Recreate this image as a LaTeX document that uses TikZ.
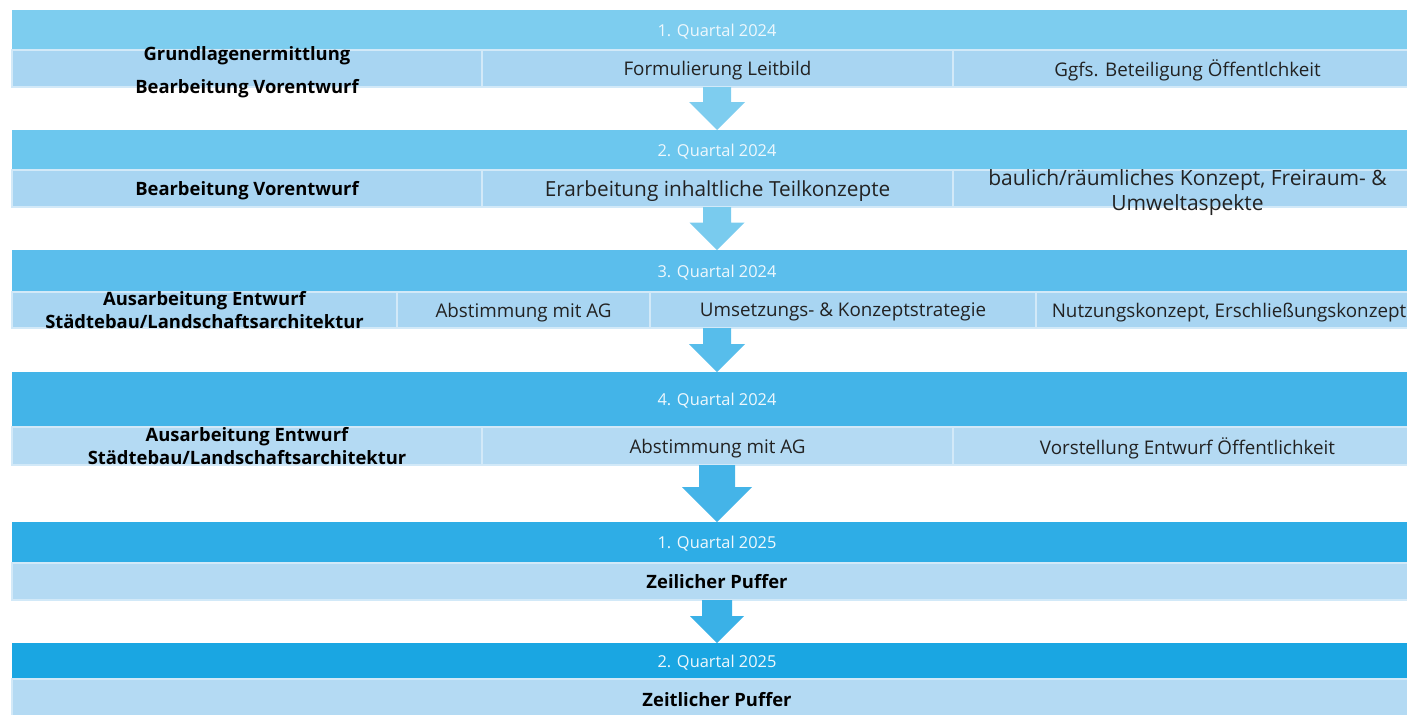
\documentclass[tikz,border=0pt]{standalone}
\usepackage{fontspec}
\setmainfont{Open Sans}
\usepackage{tikz}
\usetikzlibrary{calc,positioning}
\definecolor{head1}{HTML}{7DCDEF}
\definecolor{head2}{HTML}{6CC7EE}
\definecolor{head3}{HTML}{5BBEEC}
\definecolor{head4}{HTML}{43B4E8}
\definecolor{head5}{HTML}{2EADE6}
\definecolor{head6}{HTML}{1AA6E2}
\definecolor{subA}{HTML}{A8D5F2}
\definecolor{subB}{HTML}{B4DAF3}
\definecolor{arr1}{HTML}{7ECDEF}
\definecolor{arr2}{HTML}{79CBEE}
\definecolor{arr3}{HTML}{57BDEB}
\definecolor{arr4}{HTML}{44B4E8}
\definecolor{arr5}{HTML}{3AB1E7}
\definecolor{cellline}{HTML}{D2E9F8}
\definecolor{qtrtext}{HTML}{EEF8FD}
\definecolor{celltext}{HTML}{222222}

% block arrow: from, to, half shaft, half head, colour
\newcommand{\flowarrow}[5]{%
  \fill[#5] ($(#1)+(-#3,0)$) -- ($(#1)+(#3,0)$) -- ($(#2)+(#3,-#4)$)
    -- ($(#2)+(#4,-#4)$) -- (#2) -- ($(#2)+(-#4,-#4)$) -- ($(#2)+(-#3,-#4)$) -- cycle;}

\begin{document}
\begin{tikzpicture}
          [x=0.5pt,y=-0.5pt,
            every node/.style={rectangle,inner sep=0pt,outer sep=0pt},
            band/.style={anchor=north west,minimum width=705pt},
            cell/.style={anchor=north west,draw=cellline,line width=0.6pt},
            qtr/.style={text=qtrtext,text depth=0pt,font=\fontsize{8.2}{10}\selectfont},
            txt/.style={text=celltext,align=center,text depth=0pt,font=\fontsize{9.4}{11.5}\selectfont},
            bigtxt/.style={text=celltext,align=center,text depth=0pt,font=\fontsize{10.4}{12.5}\selectfont},
            bold/.style={text=black,align=center,text depth=0pt,font=\bfseries\fontsize{9.2}{11.5}\selectfont},
          ]
          \useasboundingbox (0,0) rectangle (1407,714);

          % 1. Quartal 2024
          \node[band,fill=head1,minimum height=20pt] (r1head) at (12,10) {};
          \node[qtr] (q1) at (r1head) {1. Quartal 2024};
          \node[cell,fill=subA,minimum width=235pt,minimum height=18.5pt] (r1a) at (r1head.south west) {};
          \node[cell,fill=subA,minimum width=235.5pt,minimum height=18.5pt,right=0pt of r1a,txt] (r1b) {Formulierung Leitbild};
          \node[cell,fill=subA,minimum width=234.5pt,minimum height=18.5pt,right=0pt of r1b,txt] (r1c) {Ggfs. Beteiligung Öffentlchkeit};
          \node[bold,font=\bfseries\fontsize{9.2}{16.5}\selectfont] (r1lbl) at (247,70) {Grundlagenermittlung\\Bearbeitung Vorentwurf};

          % 2. Quartal 2024
          \node[band,fill=head2,minimum height=20pt] (r2head) at (12,130) {};
          \node[qtr] (q2) at (r2head) {2. Quartal 2024};
          \node[cell,fill=subA,minimum width=235pt,minimum height=18.5pt,bold] (r2a) at (r2head.south west) {Bearbeitung Vorentwurf};
          \node[cell,fill=subA,minimum width=235.5pt,minimum height=18.5pt,right=0pt of r2a,bigtxt] (r2b) {Erarbeitung inhaltliche Teilkonzepte};
          \node[cell,fill=subA,minimum width=234.5pt,minimum height=18.5pt,right=0pt of r2b] (r2c) {};
          \node[bigtxt,font=\fontsize{10.5}{12.5}\selectfont,yshift=-1pt] (r2lbl) at (r2c) {baulich/räumliches Konzept, Freiraum- \&\\Umweltaspekte};

          % 3. Quartal 2024
          \node[band,fill=head3,minimum height=21pt] (r3head) at (12,250) {};
          \node[qtr] (q3) at (r3head) {3. Quartal 2024};
          \node[cell,fill=subA,minimum width=192.5pt,minimum height=18pt] (r3a) at (r3head.south west) {};
          \node[cell,fill=subA,minimum width=126.5pt,minimum height=18pt,right=0pt of r3a,txt] (r3b) {Abstimmung mit AG};
          \node[cell,fill=subA,minimum width=193pt,minimum height=18pt,right=0pt of r3b,txt] (r3c) {Umsetzungs- \& Konzeptstrategie};
          \node[cell,fill=subA,minimum width=193pt,minimum height=18pt,right=0pt of r3c,txt] (r3d) {Nutzungskonzept, Erschließungskonzept};
          \node[bold] (r3lbl) at (r3a) {Ausarbeitung Entwurf\\Städtebau/Landschaftsarchitektur};

          % 4. Quartal 2024
          \node[band,fill=head4,minimum height=27.5pt] (r4head) at (12,372) {};
          \node[qtr] (q4) at (r4head) {4. Quartal 2024};
          \node[cell,fill=subB,minimum width=235pt,minimum height=19pt] (r4a) at (r4head.south west) {};
          \node[cell,fill=subB,minimum width=235.5pt,minimum height=19pt,right=0pt of r4a,txt] (r4b) {Abstimmung mit AG};
          \node[cell,fill=subB,minimum width=234.5pt,minimum height=19pt,right=0pt of r4b,txt] (r4c) {Vorstellung Entwurf Öffentlichkeit};
          \node[bold] (r4lbl) at (r4a) {Ausarbeitung Entwurf\\Städtebau/Landschaftsarchitektur};

          % 1. Quartal 2025
          \node[band,fill=head5,minimum height=20.5pt] (r5head) at (12,522) {};
          \node[qtr] (q5) at (r5head) {1. Quartal 2025};
          \node[cell,fill=subB,minimum width=705pt,minimum height=18.5pt,bold] (r5a) at (r5head.south west) {Zeilicher Puffer};

          % 2. Quartal 2025
          \node[band,fill=head6,minimum height=18pt] (r6head) at (12,643) {};
          \node[qtr] (q6) at (r6head) {2. Quartal 2025};
          \node[cell,fill=subB,minimum width=705pt,minimum height=20pt,bold] (r6a) at (r6head.south west) {Zeitlicher Puffer};

          % arrows between the quarters
          \coordinate (r1out) at (r2head.north |- r1a.south);
          \coordinate (r2out) at (r3head.north |- r2a.south);
          \coordinate (r3out) at (r4head.north |- r3a.south);
          \coordinate (r4out) at (r5head.north |- r4a.south);
          \coordinate (r5out) at (r6head.north |- r5a.south);
          \flowarrow{r1out}{r2head.north}{14}{28}{arr1}
          \flowarrow{r2out}{r3head.north}{14}{27.5}{arr2}
          \flowarrow{r3out}{r4head.north}{14}{28}{arr3}
          \flowarrow{r4out}{r5head.north}{18}{35}{arr4}
          \flowarrow{r5out}{r6head.north}{15}{27}{arr5}
        \end{tikzpicture}
\end{document}
